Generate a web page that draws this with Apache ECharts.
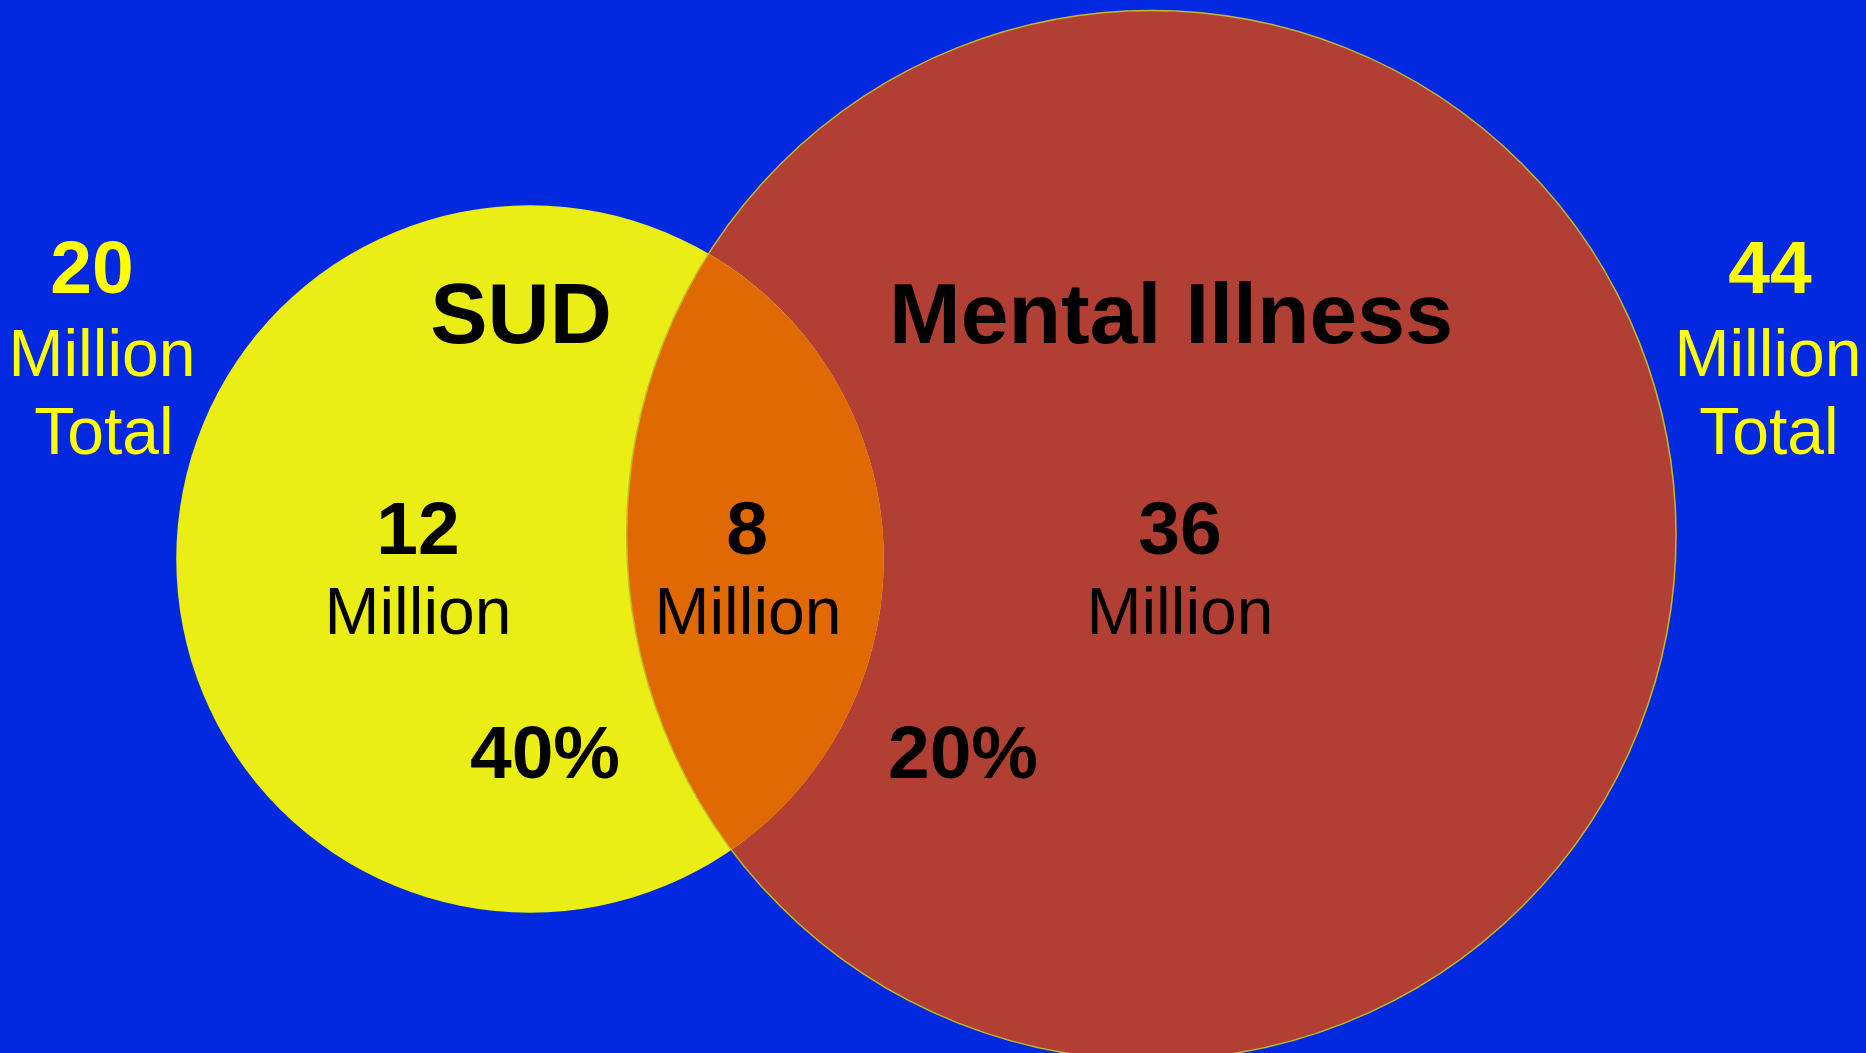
<!DOCTYPE html>
<html>
<head>
<meta charset="utf-8">
<title>SUD and Mental Illness</title>
<script src="https://cdn.jsdelivr.net/npm/echarts@6/dist/echarts.min.js"></script>
<style>
  html, body { margin: 0; padding: 0; background: #0329e0; }
  #chart { width: 1866px; height: 1053px; }
</style>
</head>
<body>
<div id="chart"></div>
<script>
// data (millions)
const setNames = ['SUD', 'Mental Illness'];
const setTotals = [20, 44];
const onlyCounts = [12, 36];
const overlapCount = 8;
const overlapShares = ['40%', '20%'];
const unitLabel = 'Million';
const totalLabel = 'Total';

// styles
const bgColor = '#0329e0';
const setColors = ['#eaee14', '#b13f33'];
const overlapColor = '#e06904';
const outlineColor = '#c2b82a';
const totalColor = '#ffff00';
const fontFamily = '"Liberation Sans", Arial, sans-serif';

// layout: circle radius = sqrt(total) in axis units
const W = 1866, H = 1053;
const pxPerUnit = 79.1;
const origin = [530, 559];      // pixel spot of the SUD circle centre
const overlapWidth = 3.25;      // lens width, axis units
const rise = 0.3;               // mental illness circle sits a bit higher

const radii = setTotals.map(v => Math.sqrt(v));
const centers = [[0, 0], [radii[0] + radii[1] - overlapWidth, rise]];

const chart = echarts.init(document.getElementById('chart'));

const renderVenn = (params, api) => {
  const c = centers.map(p => api.coord(p));
  const r = radii.map(v => api.size([v, 0])[0]);
  const dx = c[1][0] - c[0][0], dy = c[1][1] - c[0][1];
  const d = Math.sqrt(dx * dx + dy * dy);
  const a = (d * d + r[0] * r[0] - r[1] * r[1]) / (2 * d);
  const h = Math.sqrt(r[0] * r[0] - a * a);
  const ux = dx / d, uy = dy / d;
  const mx = c[0][0] + a * ux, my = c[0][1] + a * uy;
  let p1 = [mx - h * uy, my + h * ux];
  let p2 = [mx + h * uy, my - h * ux];
  const top = p1[1] < p2[1] ? p1 : p2;
  const bot = p1[1] < p2[1] ? p2 : p1;
  const lens = 'M' + top[0] + ' ' + top[1] +
    ' A' + r[0] + ' ' + r[0] + ' 0 0 1 ' + bot[0] + ' ' + bot[1] +
    ' A' + r[1] + ' ' + r[1] + ' 0 0 1 ' + top[0] + ' ' + top[1] + ' Z';
  return {
    type: 'group',
    children: [
      { type: 'circle', shape: { cx: c[1][0], cy: c[1][1], r: r[1] }, style: { fill: setColors[1] } },
      { type: 'circle', shape: { cx: c[0][0], cy: c[0][1], r: r[0] }, style: { fill: setColors[0] } },
      { type: 'path', shape: { pathData: lens }, style: { fill: overlapColor } },
      { type: 'circle', shape: { cx: c[1][0], cy: c[1][1], r: r[1] }, style: { fill: 'none', stroke: outlineColor, lineWidth: 1.5 } }
    ]
  };
};

const txt = (text, x, y, size, bold, color) => ({
  type: 'text',
  x: x, y: y,
  z: 100,
  style: {
    text: text,
    fill: color || '#000',
    font: (bold ? 'bold ' : '') + size + 'px ' + fontFamily,
    textAlign: 'center',
    textVerticalAlign: 'middle'
  }
});

const labels = [
  // totals outside the circles
  txt(String(setTotals[0]), 92, 272, 75, true, totalColor),
  txt(unitLabel, 102, 358, 66, false, totalColor),
  txt(totalLabel, 104, 436, 66, false, totalColor),
  txt(String(setTotals[1]), 1770, 272, 75, true, totalColor),
  txt(unitLabel, 1768, 358, 66, false, totalColor),
  txt(totalLabel, 1769, 436, 66, false, totalColor),
  // set names
  txt(setNames[0], 521, 319, 86, true),
  txt(setNames[1], 1171, 319, 86, true),
  // region counts
  txt(String(onlyCounts[0]), 418, 533, 75, true),
  txt(unitLabel, 418, 616, 66, false),
  txt(String(overlapCount), 747, 533, 75, true),
  txt(unitLabel, 748, 616, 66, false),
  txt(String(onlyCounts[1]), 1180, 533, 75, true),
  txt(unitLabel, 1180, 616, 66, false),
  // shares
  txt(overlapShares[0], 545, 757, 75, true),
  txt(overlapShares[1], 963, 757, 75, true)
];

chart.setOption({
  backgroundColor: bgColor,
  animation: false,
  grid: { left: 0, right: 0, top: 0, bottom: 0 },
  xAxis: {
    type: 'value',
    min: -origin[0] / pxPerUnit,
    max: (W - origin[0]) / pxPerUnit,
    show: false
  },
  yAxis: {
    type: 'value',
    min: -(H - origin[1]) / pxPerUnit,
    max: origin[1] / pxPerUnit,
    show: false
  },
  graphic: { elements: labels },
  series: [
    {
      type: 'custom',
      renderItem: renderVenn,
      data: [[0]],
      silent: true
    }
  ]
});
</script>
</body>
</html>
